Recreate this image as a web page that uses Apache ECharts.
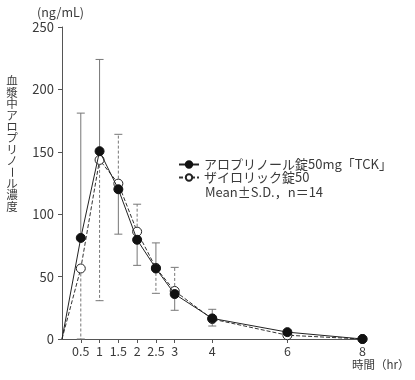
<!DOCTYPE html>
<html><head><meta charset="utf-8">
<script src="https://cdn.jsdelivr.net/npm/echarts@6/dist/echarts.min.js"></script>
<style>html,body{margin:0;padding:0;background:#fff}#c{width:415px;height:380px}</style>
</head><body><div id="c"></div>
<script>
const times = [0, 0.5, 1, 1.5, 2, 2.5, 3, 4, 6, 8];
const meanA = [0, 81, 150.5, 120, 79.5, 56.5, 36, 16.5, 5.5, 0];
const errEndA = [null, 181, 224, 84, 59, 77, 23, 23.8, 7, null];
const meanB = [0, 56.5, 143.5, 124.5, 86, 57, 38.5, 16, 3, 0];
const errEndB = [null, 0, 30.7, 164, 108, 36.6, 57.4, 10.4, 1.5, null];
const xTicks = [0.5, 1, 1.5, 2, 2.5, 3, 4, 6, 8];
const seriesNames = ['アロプリノール錠50mg「TCK」', 'ザイロリック錠50'];
const noteText = 'Mean±S.D.，n＝14';
const yTitle = '血漿中アロプリノール濃度';
const yUnit = '(ng/mL)';
const xUnit = '時間（hr）';

const FONT = 'Noto Sans CJK JP';
const TXT = '#3a3a3a';
function pairs(m){ return times.map((t,i)=> t===0 ? {value:[t,m[i]], symbol:'none'} : [t,m[i]]); }
function errData(m,e){ const r=[]; times.forEach((t,i)=>{ if(e[i]!==null) r.push([t,m[i],e[i]]); }); return r; }
function errSeries(data, dash){
  return {type:'custom', silent:true, z:1, data:data, encode:{x:0,y:1},
    renderItem:function(params, api){
      const p1 = api.coord([api.value(0), api.value(1)]);
      const p2 = api.coord([api.value(0), api.value(2)]);
      const st = {stroke:'#777', lineWidth:1, lineDash: dash ? [3,2] : null};
      return {type:'group', children:[
        {type:'line', shape:{x1:p1[0],y1:p1[1],x2:p2[0],y2:p2[1]}, style:st},
        {type:'line', shape:{x1:p2[0]-4,y1:p2[1],x2:p2[0]+4,y2:p2[1]}, style:{stroke:'#777', lineWidth:1}}
      ]};
    }};
}
const graphics = [];
Array.from(yTitle).forEach((ch,i)=>{
  graphics.push({type:'text', x:12, y:81 + i*11.4, rotation: ch==='ー' ? -Math.PI/2 : 0,
    style:{text:ch, fontFamily:FONT, fontSize:11.5, fill:TXT, align:'center', verticalAlign:'middle'}});
});
graphics.push({type:'text', x:37, y:12, style:{text:yUnit, fontFamily:FONT, fontSize:12.5, fill:TXT, verticalAlign:'middle'}});
graphics.push({type:'text', x:352, y:365, style:{text:xUnit, fontFamily:FONT, fontSize:11.5, fill:TXT, verticalAlign:'middle'}});
graphics.push({type:'text', x:205, y:192, style:{text:noteText, fontFamily:FONT, fontSize:13, fill:TXT, verticalAlign:'middle'}});

const chart = echarts.init(document.getElementById('c'), null, {renderer:'canvas'});
chart.setOption({
  animation:false,
  grid:{left:62, right:52.5, top:27, bottom:41},
  xAxis:{type:'value', min:0, max:8, interval:0.5,
    axisLine:{lineStyle:{color:'#555', width:1}},
    axisTick:{show:true, length:4, lineStyle:{color:'#555'}, customValues:xTicks},
    axisLabel:{color:TXT, fontFamily:FONT, fontSize:12.5, margin:6, customValues:xTicks},
    splitLine:{show:false}},
  yAxis:{type:'value', min:0, max:250, interval:50,
    axisLine:{show:true, lineStyle:{color:'#555', width:1}},
    axisTick:{show:true, length:4, lineStyle:{color:'#555'}},
    axisLabel:{color:TXT, fontFamily:FONT, fontSize:13, margin:8},
    splitLine:{show:false}},
  legend:{data:seriesNames, orient:'vertical', left:173, top:153, itemWidth:20, itemHeight:8, itemGap:0,
    textStyle:{fontFamily:FONT, fontSize:13, color:TXT}},
  graphic:graphics,
  series:[
    errSeries(errData(meanA,errEndA), false),
    errSeries(errData(meanB,errEndB), true),
    {name:seriesNames[1], type:'line', data:pairs(meanB), z:3, symbol:'circle', symbolSize:9,
      lineStyle:{color:'#333', width:1, type:[4,2]}, itemStyle:{color:'#fff', borderColor:'#222', borderWidth:1}},
    {name:seriesNames[0], type:'line', data:pairs(meanA), z:4, symbol:'circle', symbolSize:9,
      lineStyle:{color:'#222', width:1}, itemStyle:{color:'#111', borderColor:'#111', borderWidth:1}}
  ]
});
</script></body></html>
